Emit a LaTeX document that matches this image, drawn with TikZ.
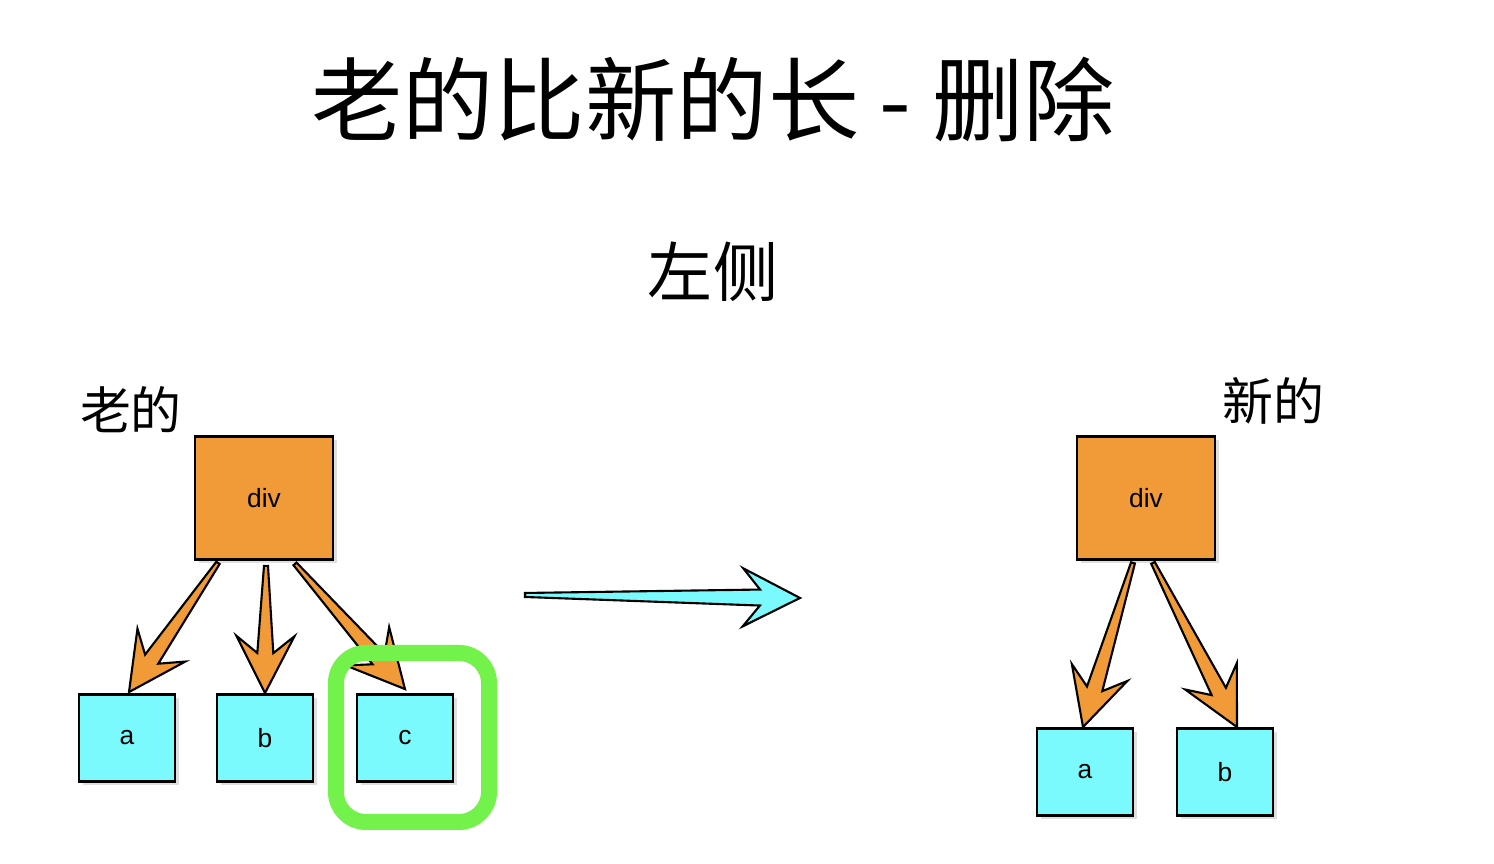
\documentclass[tikz,border=0pt]{standalone}
\usepackage{fontspec}
\setmainfont{Liberation Sans}
\newfontfamily\cjk{Noto Sans CJK SC}
\usetikzlibrary{calc,shadows}

\definecolor{divorange}{RGB}{240,154,56}
\definecolor{leafcyan}{RGB}{122,250,252}
\definecolor{markgreen}{RGB}{114,242,74}

% tapered arrow with a barbed head, from #1 to #2, filled with #3
\newcommand\fatarrow[3]{%
  \coordinate (fa-h) at ($(#2)!0.57cm!(#1)$);
  \coordinate (fa-j) at ($(#2)!0.40cm!(#1)$);
  \filldraw[fill=#3, draw=black, semithick, line join=miter]
    ($(#1)!0.02cm!90:(#2)$) -- ($(fa-j)!0.08cm!-90:(#1)$)
    -- ($(fa-h)!0.29cm!-90:(#1)$) -- (#2)
    -- ($(fa-h)!0.29cm!90:(#1)$) -- ($(fa-j)!0.08cm!90:(#1)$)
    -- ($(#1)!0.02cm!-90:(#2)$) -- cycle;
}

\begin{document}
\begin{tikzpicture}
[inner sep=0pt,
title/.style={font=\cjk\fontsize{26}{30}\selectfont},
heading/.style={font=\cjk\fontsize{18.5}{22}\selectfont},
side/.style={font=\cjk\fontsize{14.5}{17}\selectfont},
parent/.style={draw, thick, fill=divorange, minimum width=1.38cm, minimum height=1.23cm,
  font=\fontsize{7.5}{9}\selectfont, drop shadow={opacity=0.25, shadow xshift=0.04cm, shadow yshift=-0.04cm}},
leaf/.style={draw, thick, fill=leafcyan, minimum width=0.96cm, minimum height=0.87cm,
  font=\fontsize{7.5}{9}\selectfont, drop shadow={opacity=0.25, shadow xshift=0.04cm, shadow yshift=-0.04cm}},
greenmark/.style={draw=markgreen, line width=0.16cm, rounded corners=0.3cm}]
\useasboundingbox (0,0) rectangle (14.94,8.64);

\node[title] (title) at (7.13,7.64) {老的比新的长 - 删除};
\node[heading] (side) at (7.13,5.92) {左侧};
\node[side] (oldlabel) at (1.31,4.54) {老的};
\node[side] (newlabel) at (12.73,4.63) {新的};

% OLD
\node[parent] (olddiv) at (2.64,3.66) {div};
\node[leaf] (olda) at (1.27,1.26) {a};
\node[leaf] (oldb) at (2.65,1.26) {b};
\node[leaf] (oldc) at (4.05,1.26) {c};

\coordinate (oa-from) at ($(olddiv.south)+(-0.46,-0.02)$);
\coordinate (oa-to) at ($(olda.north)+(0.02,0.01)$);
\coordinate (ob-from) at ($(olddiv.south)+(0.02,-0.05)$);
\coordinate (ob-to) at (oldb.north);
\coordinate (oc-from) at ($(olddiv.south)+(0.31,-0.03)$);
\coordinate (oc-to) at ($(oldc.north)+(0,0.04)$);
\fatarrow{oa-from}{oa-to}{divorange}
\fatarrow{ob-from}{ob-to}{divorange}
\fatarrow{oc-from}{oc-to}{divorange}

\draw[greenmark] (3.36,2.11) rectangle (4.89,0.42);

% NEW
\node[parent] (newdiv) at (11.46,3.66) {div};
\node[leaf] (newa) at (10.85,0.92) {a};
\node[leaf] (newb) at (12.25,0.92) {b};

\coordinate (na-from) at ($(newdiv.south)+(-0.13,-0.02)$);
\coordinate (na-to) at ($(newa.north)+(-0.02,0)$);
\coordinate (nb-from) at ($(newdiv.south)+(0.07,-0.02)$);
\coordinate (nb-to) at ($(newb.north)+(0.12,0)$);
\fatarrow{na-from}{na-to}{divorange}
\fatarrow{nb-from}{nb-to}{divorange}

% old -> new
\coordinate (bigstart) at (5.25,2.69);
\coordinate (bigend) at (8.00,2.66);
\fatarrow{bigstart}{bigend}{leafcyan}
\end{tikzpicture}
\end{document}
